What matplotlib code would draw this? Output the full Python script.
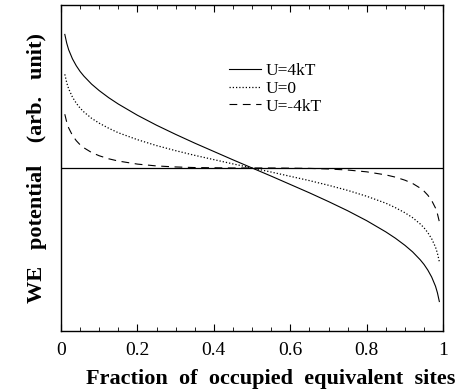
import matplotlib
matplotlib.use('Agg')
import matplotlib.pyplot as plt
from matplotlib.ticker import MultipleLocator, FuncFormatter

# fraction of occupied sites
theta = [0.01, 0.015, 0.02, 0.03, 0.04, 0.05, 0.06, 0.08, 0.1, 0.125, 0.15,
         0.2, 0.25, 0.3, 0.35, 0.4, 0.45, 0.5, 0.55, 0.6, 0.65, 0.7, 0.75,
         0.8, 0.85, 0.875, 0.9, 0.92, 0.94, 0.95, 0.96, 0.97, 0.98, 0.985, 0.99]

# electrode potential, arbitrary units
pot_u4 = [6.56, 6.13, 5.81, 5.36, 5.02, 4.74, 4.51, 4.12, 3.80, 3.45, 3.14,
          2.59, 2.10, 1.65, 1.22, 0.81, 0.40, 0.0, -0.40, -0.81, -1.22, -1.65, -2.10,
          -2.59, -3.14, -3.45, -3.80, -4.12, -4.51, -4.74, -5.02, -5.36, -5.81, -6.13, -6.56]
pot_u0 = [4.60, 4.19, 3.89, 3.48, 3.18, 2.94, 2.75, 2.44, 2.20, 1.95, 1.73,
          1.39, 1.10, 0.85, 0.62, 0.41, 0.20, 0.0, -0.20, -0.41, -0.62, -0.85, -1.10,
          -1.39, -1.73, -1.95, -2.20, -2.44, -2.75, -2.94, -3.18, -3.48, -3.89, -4.19, -4.60]
pot_um4 = [2.64, 2.25, 1.97, 1.60, 1.34, 1.14, 0.99, 0.76, 0.60, 0.45, 0.34,
           0.19, 0.10, 0.05, 0.02, 0.01, 0.0, 0.0, 0.0, -0.01, -0.02, -0.05, -0.10,
           -0.19, -0.34, -0.45, -0.60, -0.76, -0.99, -1.14, -1.34, -1.60, -1.97, -2.25, -2.64]

plt.rcParams['font.family'] = ['Liberation Serif', 'DejaVu Serif']

fig = plt.figure(figsize=(4.61, 3.92), dpi=100)
ax = fig.add_axes([0.1323, 0.156, 0.829, 0.831])

ax.axhline(0, color='black', lw=0.9)
ax.plot(theta, pot_u4, color='black', lw=0.8, label='U=4kT')
ax.plot(theta, pot_u0, color='black', lw=0.9, linestyle=(0, (1, 1.6)), label='U=0')
ax.plot(theta, pot_um4, color='black', lw=0.8, linestyle=(0, (7, 5)), label='U=-4kT')

ax.set_xlim(0, 1)
ax.set_ylim(-8.0, 8.0)
ax.xaxis.set_major_locator(MultipleLocator(0.2))
ax.xaxis.set_minor_locator(MultipleLocator(0.05))
ax.xaxis.set_major_formatter(FuncFormatter(lambda v, p: '%g' % round(v, 2)))
ax.tick_params(axis='x', which='both', direction='in', top=True, labelsize=14, pad=8)
ax.tick_params(axis='x', which='major', length=5, width=0.8)
ax.tick_params(axis='x', which='minor', length=3, width=0.6)
ax.set_yticks([])
for s in ax.spines.values():
    s.set_linewidth(1.0)

ax.set_xlabel('Fraction  of  occupied  equivalent  sites', fontsize=16,
              fontweight='bold')
ax.xaxis.set_label_coords(0.55, -0.117)
ax.set_ylabel('WE   potential    (arb.   unit)', fontsize=16, fontweight='bold',
              labelpad=10)

ax.legend(loc='upper left', bbox_to_anchor=(0.416, 0.848), frameon=False,
          fontsize=12.5, handlelength=1.85, handletextpad=0.25, labelspacing=0.08,
          borderpad=0)

fig.savefig('out.png', dpi=100)
